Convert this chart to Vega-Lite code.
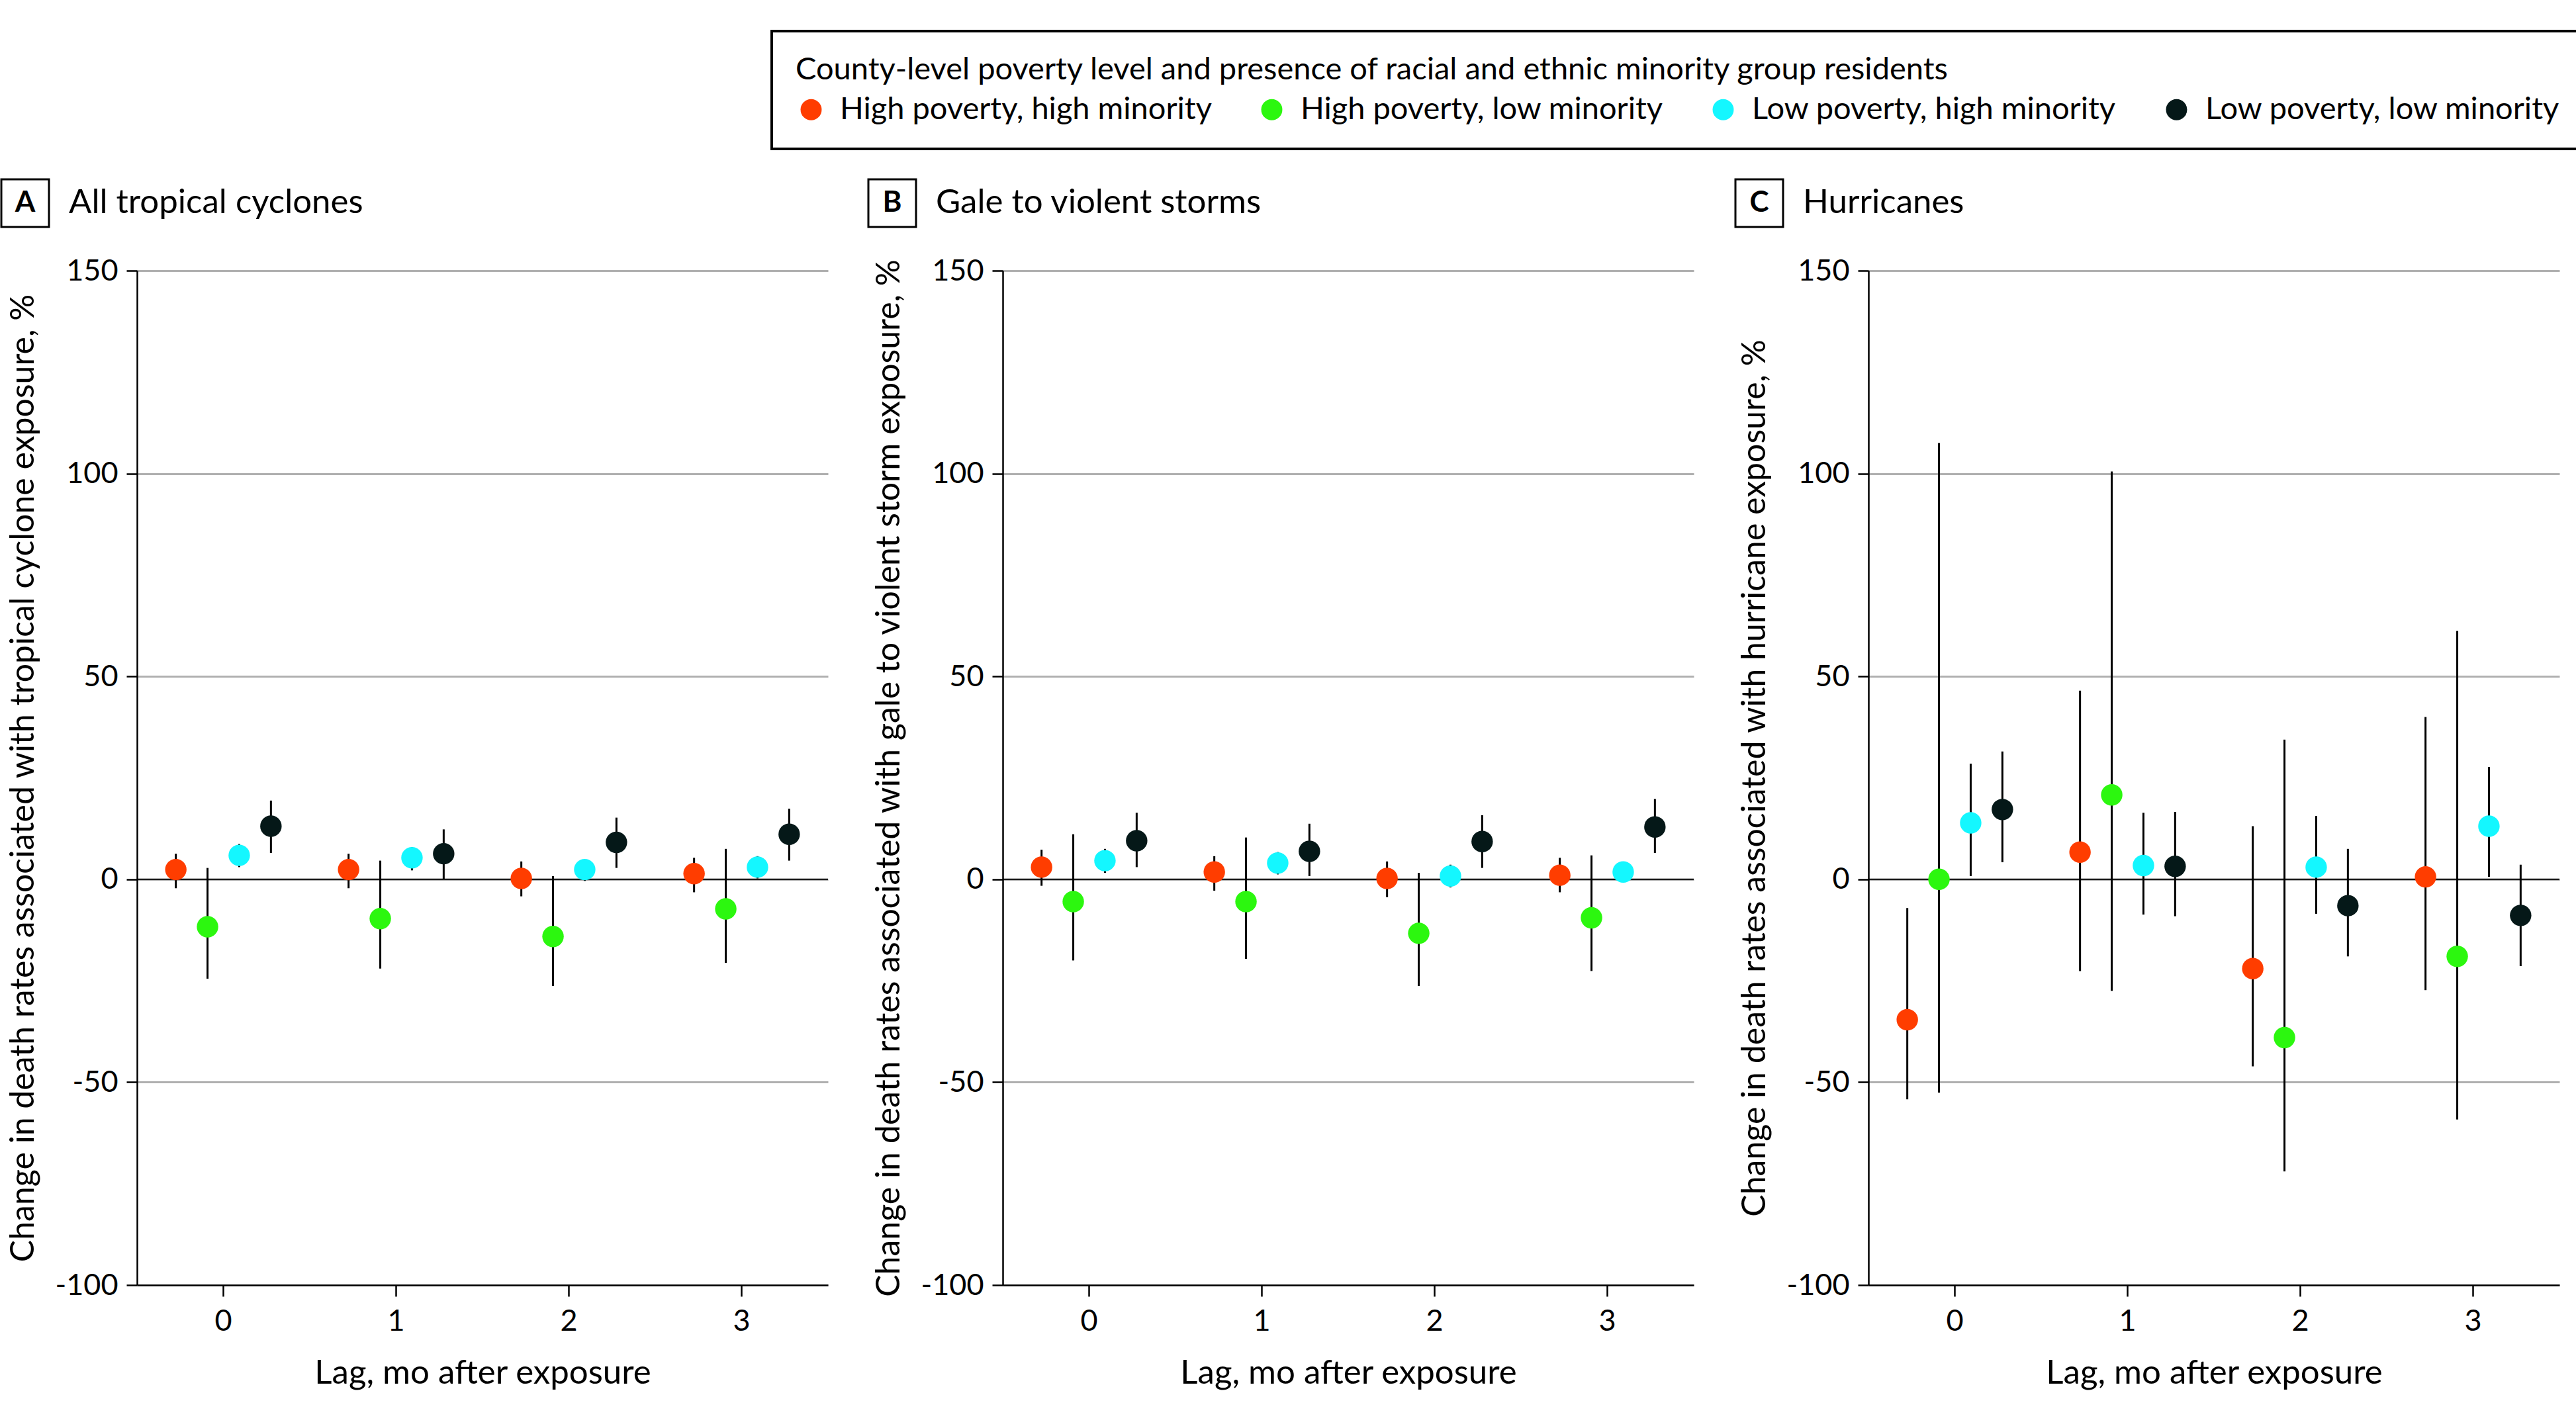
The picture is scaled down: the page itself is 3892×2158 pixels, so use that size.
{
  "$schema": "https://vega.github.io/schema/vega-lite/v6.json",
  "background": "white",
  "padding": {"left": 0, "top": 45, "right": 20, "bottom": 20},
  "config": {
    "font": "Lato",
    "view": {"stroke": null},
    "axis": {
      "labelFont": "Lato",
      "titleFont": "Lato",
      "labelFontSize": 45,
      "titleFontSize": 51,
      "titleFontWeight": "normal",
      "labelColor": "black",
      "titleColor": "black",
      "domainColor": "black",
      "domainWidth": 2.5,
      "tickColor": "black",
      "tickWidth": 2.5,
      "gridColor": "#b0b0b0",
      "gridWidth": 3
    },
    "legend": {
      "strokeColor": "black",
      "strokeWidth": 4
    }
  },
  "datasets": {
    "panels": [
      {"panel": "A", "name": "All tropical cyclones"},
      {"panel": "B", "name": "Gale to violent storms"},
      {"panel": "C", "name": "Hurricanes"}
    ],
    "estimates": [
      {"panel": "A", "lag": 0, "group": "High poverty, high minority", "est": 2.4, "lo": -2.2, "hi": 6.3},
      {"panel": "A", "lag": 0, "group": "High poverty, low minority", "est": -11.7, "lo": -24.5, "hi": 2.8},
      {"panel": "A", "lag": 0, "group": "Low poverty, high minority", "est": 5.9, "lo": 3.0, "hi": 8.7},
      {"panel": "A", "lag": 0, "group": "Low poverty, low minority", "est": 13.1, "lo": 6.5, "hi": 19.4},
      {"panel": "A", "lag": 1, "group": "High poverty, high minority", "est": 2.4, "lo": -2.2, "hi": 6.3},
      {"panel": "A", "lag": 1, "group": "High poverty, low minority", "est": -9.7, "lo": -22.0, "hi": 4.6},
      {"panel": "A", "lag": 1, "group": "Low poverty, high minority", "est": 5.3, "lo": 2.2, "hi": 7.9},
      {"panel": "A", "lag": 1, "group": "Low poverty, low minority", "est": 6.3, "lo": 0.0, "hi": 12.3},
      {"panel": "A", "lag": 2, "group": "High poverty, high minority", "est": 0.2, "lo": -4.2, "hi": 4.4},
      {"panel": "A", "lag": 2, "group": "High poverty, low minority", "est": -14.1, "lo": -26.3, "hi": 0.8},
      {"panel": "A", "lag": 2, "group": "Low poverty, high minority", "est": 2.4, "lo": -0.4, "hi": 4.7},
      {"panel": "A", "lag": 2, "group": "Low poverty, low minority", "est": 9.1, "lo": 2.8, "hi": 15.2},
      {"panel": "A", "lag": 3, "group": "High poverty, high minority", "est": 1.4, "lo": -3.2, "hi": 5.3},
      {"panel": "A", "lag": 3, "group": "High poverty, low minority", "est": -7.3, "lo": -20.6, "hi": 7.5},
      {"panel": "A", "lag": 3, "group": "Low poverty, high minority", "est": 3.0, "lo": 0.2, "hi": 5.7},
      {"panel": "A", "lag": 3, "group": "Low poverty, low minority", "est": 11.1, "lo": 4.6, "hi": 17.4},
      {"panel": "B", "lag": 0, "group": "High poverty, high minority", "est": 3.0, "lo": -1.6, "hi": 7.3},
      {"panel": "B", "lag": 0, "group": "High poverty, low minority", "est": -5.5, "lo": -20.0, "hi": 11.1},
      {"panel": "B", "lag": 0, "group": "Low poverty, high minority", "est": 4.6, "lo": 1.6, "hi": 7.5},
      {"panel": "B", "lag": 0, "group": "Low poverty, low minority", "est": 9.5, "lo": 3.0, "hi": 16.4},
      {"panel": "B", "lag": 1, "group": "High poverty, high minority", "est": 1.8, "lo": -2.8, "hi": 5.7},
      {"panel": "B", "lag": 1, "group": "High poverty, low minority", "est": -5.5, "lo": -19.6, "hi": 10.3},
      {"panel": "B", "lag": 1, "group": "Low poverty, high minority", "est": 4.0, "lo": 1.2, "hi": 6.7},
      {"panel": "B", "lag": 1, "group": "Low poverty, low minority", "est": 6.9, "lo": 0.8, "hi": 13.7},
      {"panel": "B", "lag": 2, "group": "High poverty, high minority", "est": 0.2, "lo": -4.4, "hi": 4.4},
      {"panel": "B", "lag": 2, "group": "High poverty, low minority", "est": -13.3, "lo": -26.3, "hi": 1.6},
      {"panel": "B", "lag": 2, "group": "Low poverty, high minority", "est": 0.8, "lo": -2.0, "hi": 3.6},
      {"panel": "B", "lag": 2, "group": "Low poverty, low minority", "est": 9.3, "lo": 2.8, "hi": 15.8},
      {"panel": "B", "lag": 3, "group": "High poverty, high minority", "est": 1.0, "lo": -3.2, "hi": 5.3},
      {"panel": "B", "lag": 3, "group": "High poverty, low minority", "est": -9.5, "lo": -22.6, "hi": 5.9},
      {"panel": "B", "lag": 3, "group": "Low poverty, high minority", "est": 1.8, "lo": 0.8, "hi": 2.6},
      {"panel": "B", "lag": 3, "group": "Low poverty, low minority", "est": 12.9, "lo": 6.5, "hi": 19.8},
      {"panel": "C", "lag": 0, "group": "High poverty, high minority", "est": -34.6, "lo": -54.2, "hi": -7.1},
      {"panel": "C", "lag": 0, "group": "High poverty, low minority", "est": 0.0, "lo": -52.6, "hi": 107.5},
      {"panel": "C", "lag": 0, "group": "Low poverty, high minority", "est": 13.9, "lo": 0.8, "hi": 28.5},
      {"panel": "C", "lag": 0, "group": "Low poverty, low minority", "est": 17.2, "lo": 4.2, "hi": 31.5},
      {"panel": "C", "lag": 1, "group": "High poverty, high minority", "est": 6.7, "lo": -22.6, "hi": 46.5},
      {"panel": "C", "lag": 1, "group": "High poverty, low minority", "est": 20.8, "lo": -27.5, "hi": 100.5},
      {"panel": "C", "lag": 1, "group": "Low poverty, high minority", "est": 3.4, "lo": -8.7, "hi": 16.4},
      {"panel": "C", "lag": 1, "group": "Low poverty, low minority", "est": 3.2, "lo": -9.1, "hi": 16.6},
      {"panel": "C", "lag": 2, "group": "High poverty, high minority", "est": -22.0, "lo": -46.1, "hi": 13.1},
      {"panel": "C", "lag": 2, "group": "High poverty, low minority", "est": -39.0, "lo": -72.0, "hi": 34.4},
      {"panel": "C", "lag": 2, "group": "Low poverty, high minority", "est": 3.0, "lo": -8.5, "hi": 15.6},
      {"panel": "C", "lag": 2, "group": "Low poverty, low minority", "est": -6.5, "lo": -19.0, "hi": 7.5},
      {"panel": "C", "lag": 3, "group": "High poverty, high minority", "est": 0.6, "lo": -27.3, "hi": 40.0},
      {"panel": "C", "lag": 3, "group": "High poverty, low minority", "est": -19.0, "lo": -59.2, "hi": 61.2},
      {"panel": "C", "lag": 3, "group": "Low poverty, high minority", "est": 13.1, "lo": 0.6, "hi": 27.7},
      {"panel": "C", "lag": 3, "group": "Low poverty, low minority", "est": -8.9, "lo": -21.4, "hi": 3.6}
    ]
  },
  "resolve": {"scale": {"color": "shared"}, "legend": {"color": "shared"}},
  "spacing": 42,
  "vconcat": [
    {
      "bounds": "flush",
      "spacing": 30,
      "hconcat": [
        {
          "width": 72, "height": 72,
          "view": {"stroke": "black", "strokeWidth": 3, "fill": "white"},
          "data": {"name": "panels"},
          "transform": [{"filter": {"field": "panel", "equal": "A"}}],
          "mark": {"type": "text", "fontSize": 44, "fontWeight": "bold", "color": "black", "align": "center", "baseline": "middle"},
          "encoding": {"text": {"field": "panel"}}
        },
        {
          "width": 1178, "height": 72,
          "data": {"name": "panels"},
          "transform": [{"filter": {"field": "panel", "equal": "A"}}],
          "mark": {"type": "text", "fontSize": 51, "color": "black", "align": "left", "baseline": "middle"},
          "encoding": {
            "x": {"field": "name", "type": "nominal", "scale": {"type": "point", "padding": 0, "align": 0}, "axis": null},
            "text": {"field": "name"}
          }
        },
        {
          "width": 72, "height": 72,
          "view": {"stroke": "black", "strokeWidth": 3, "fill": "white"},
          "data": {"name": "panels"},
          "transform": [{"filter": {"field": "panel", "equal": "B"}}],
          "mark": {"type": "text", "fontSize": 44, "fontWeight": "bold", "color": "black", "align": "center", "baseline": "middle"},
          "encoding": {"text": {"field": "panel"}}
        },
        {
          "width": 1178, "height": 72,
          "data": {"name": "panels"},
          "transform": [{"filter": {"field": "panel", "equal": "B"}}],
          "mark": {"type": "text", "fontSize": 51, "color": "black", "align": "left", "baseline": "middle"},
          "encoding": {
            "x": {"field": "name", "type": "nominal", "scale": {"type": "point", "padding": 0, "align": 0}, "axis": null},
            "text": {"field": "name"}
          }
        },
        {
          "width": 72, "height": 72,
          "view": {"stroke": "black", "strokeWidth": 3, "fill": "white"},
          "data": {"name": "panels"},
          "transform": [{"filter": {"field": "panel", "equal": "C"}}],
          "mark": {"type": "text", "fontSize": 44, "fontWeight": "bold", "color": "black", "align": "center", "baseline": "middle"},
          "encoding": {"text": {"field": "panel"}}
        },
        {
          "width": 1000, "height": 72,
          "data": {"name": "panels"},
          "transform": [{"filter": {"field": "panel", "equal": "C"}}],
          "mark": {"type": "text", "fontSize": 51, "color": "black", "align": "left", "baseline": "middle"},
          "encoding": {
            "x": {"field": "name", "type": "nominal", "scale": {"type": "point", "padding": 0, "align": 0}, "axis": null},
            "text": {"field": "name"}
          }
        }
      ]
    },
    {
      "spacing": 0,
      "resolve": {"scale": {"color": "shared"}, "legend": {"color": "shared"}},
      "hconcat": [
        {
          "width": 8, "height": 1,
          "data": {"values": []},
          "mark": "point"
        },
        {
          "spacing": 66,
          "resolve": {"scale": {"color": "shared"}, "legend": {"color": "shared"}},
          "hconcat": [
            {
              "width": 1044, "height": 1533,
              "data": {"name": "estimates"},
              "transform": [{"filter": {"field": "panel", "equal": "A"}}],
              "layer": [
                {
                  "data": {"values": [{}]},
                  "mark": {"type": "rule", "color": "black", "strokeWidth": 2},
                  "encoding": {"y": {"datum": 0, "type": "quantitative"}}
                },
                {
                  "mark": {"type": "rule", "color": "black", "strokeWidth": 3},
                  "encoding": {
                    "x": {"field": "lag", "type": "ordinal", "scale": {"type": "band", "paddingInner": 0, "paddingOuter": 0}, "axis": {"title": "Lag, mo after exposure", "labelAngle": 0, "grid": false, "tickSize": 17, "labelPadding": 15, "titlePadding": 31}},
                    "xOffset": {"field": "group", "type": "nominal", "sort": ["High poverty, high minority", "High poverty, low minority", "Low poverty, high minority", "Low poverty, low minority"], "scale": {"type": "band", "paddingInner": 0, "paddingOuter": 0.7245}},
                    "y": {"field": "lo", "type": "quantitative", "scale": {"domain": [-100, 150], "nice": false, "zero": false}, "axis": {"title": "Change in death rates associated with tropical cyclone exposure, %", "values": [-100, -50, 0, 50, 100, 150], "labelExpr": "replace(datum.label, '\u2212', '-')", "tickSize": 16, "labelPadding": 13, "titlePadding": 22, "grid": true, "titleFontSize": 50}},
                    "y2": {"field": "hi"}
                  }
                },
                {
                  "mark": {"type": "point", "filled": true, "size": 1050, "opacity": 1},
                  "encoding": {
                    "x": {"field": "lag", "type": "ordinal"},
                    "xOffset": {"field": "group", "type": "nominal", "sort": ["High poverty, high minority", "High poverty, low minority", "Low poverty, high minority", "Low poverty, low minority"]},
                    "y": {"field": "est", "type": "quantitative"},
                    "color": {
                      "field": "group", "type": "nominal",
                      "scale": {"domain": ["High poverty, high minority", "High poverty, low minority", "Low poverty, high minority", "Low poverty, low minority"], "range": ["#ff3d00", "#2cf70f", "#14f7ff", "#051818"]},
                      "legend": {"title": "County-level poverty level and presence of racial and ethnic minority group residents", "orient": "none", "legendX": 1164, "legendY": -224, "direction": "horizontal", "titleOrient": "top", "strokeColor": "black", "padding": 36, "columnPadding": 67, "labelOffset": 20, "symbolType": "circle", "symbolSize": 1018, "symbolStrokeWidth": 0, "titleFontSize": 47, "labelFontSize": 47, "titleFontWeight": "normal", "titlePadding": 12, "titleLimit": 4000, "labelLimit": 2000, "titleColor": "black", "labelColor": "black", "titleFont": "Lato", "labelFont": "Lato"}
                    }
                  }
                }
              ]
            },
            {
              "width": 1044, "height": 1533,
              "data": {"name": "estimates"},
              "transform": [{"filter": {"field": "panel", "equal": "B"}}],
              "layer": [
                {
                  "data": {"values": [{}]},
                  "mark": {"type": "rule", "color": "black", "strokeWidth": 2},
                  "encoding": {"y": {"datum": 0, "type": "quantitative"}}
                },
                {
                  "mark": {"type": "rule", "color": "black", "strokeWidth": 3},
                  "encoding": {
                    "x": {"field": "lag", "type": "ordinal", "scale": {"type": "band", "paddingInner": 0, "paddingOuter": 0}, "axis": {"title": "Lag, mo after exposure", "labelAngle": 0, "grid": false, "tickSize": 17, "labelPadding": 15, "titlePadding": 31}},
                    "xOffset": {"field": "group", "type": "nominal", "sort": ["High poverty, high minority", "High poverty, low minority", "Low poverty, high minority", "Low poverty, low minority"], "scale": {"type": "band", "paddingInner": 0, "paddingOuter": 0.7245}},
                    "y": {"field": "lo", "type": "quantitative", "scale": {"domain": [-100, 150], "nice": false, "zero": false}, "axis": {"title": "Change in death rates associated with gale to violent storm exposure, %", "values": [-100, -50, 0, 50, 100, 150], "labelExpr": "replace(datum.label, '\u2212', '-')", "tickSize": 16, "labelPadding": 13, "titlePadding": 22, "grid": true, "titleFontSize": 50}},
                    "y2": {"field": "hi"}
                  }
                },
                {
                  "mark": {"type": "point", "filled": true, "size": 1050, "opacity": 1},
                  "encoding": {
                    "x": {"field": "lag", "type": "ordinal"},
                    "xOffset": {"field": "group", "type": "nominal", "sort": ["High poverty, high minority", "High poverty, low minority", "Low poverty, high minority", "Low poverty, low minority"]},
                    "y": {"field": "est", "type": "quantitative"},
                    "color": {
                      "field": "group", "type": "nominal",
                      "scale": {"domain": ["High poverty, high minority", "High poverty, low minority", "Low poverty, high minority", "Low poverty, low minority"], "range": ["#ff3d00", "#2cf70f", "#14f7ff", "#051818"]},
                      "legend": {"title": "County-level poverty level and presence of racial and ethnic minority group residents", "orient": "none", "legendX": 1164, "legendY": -224, "direction": "horizontal", "titleOrient": "top", "strokeColor": "black", "padding": 36, "columnPadding": 67, "labelOffset": 20, "symbolType": "circle", "symbolSize": 1018, "symbolStrokeWidth": 0, "titleFontSize": 47, "labelFontSize": 47, "titleFontWeight": "normal", "titlePadding": 12, "titleLimit": 4000, "labelLimit": 2000, "titleColor": "black", "labelColor": "black", "titleFont": "Lato", "labelFont": "Lato"}
                    }
                  }
                }
              ]
            },
            {
              "width": 1044, "height": 1533,
              "data": {"name": "estimates"},
              "transform": [{"filter": {"field": "panel", "equal": "C"}}],
              "layer": [
                {
                  "data": {"values": [{}]},
                  "mark": {"type": "rule", "color": "black", "strokeWidth": 2},
                  "encoding": {"y": {"datum": 0, "type": "quantitative"}}
                },
                {
                  "mark": {"type": "rule", "color": "black", "strokeWidth": 3},
                  "encoding": {
                    "x": {"field": "lag", "type": "ordinal", "scale": {"type": "band", "paddingInner": 0, "paddingOuter": 0}, "axis": {"title": "Lag, mo after exposure", "labelAngle": 0, "grid": false, "tickSize": 17, "labelPadding": 15, "titlePadding": 31}},
                    "xOffset": {"field": "group", "type": "nominal", "sort": ["High poverty, high minority", "High poverty, low minority", "Low poverty, high minority", "Low poverty, low minority"], "scale": {"type": "band", "paddingInner": 0, "paddingOuter": 0.7245}},
                    "y": {"field": "lo", "type": "quantitative", "scale": {"domain": [-100, 150], "nice": false, "zero": false}, "axis": {"title": "Change in death rates associated with hurricane exposure, %", "values": [-100, -50, 0, 50, 100, 150], "labelExpr": "replace(datum.label, '\u2212', '-')", "tickSize": 16, "labelPadding": 13, "titlePadding": 22, "grid": true, "titleFontSize": 50}},
                    "y2": {"field": "hi"}
                  }
                },
                {
                  "mark": {"type": "point", "filled": true, "size": 1050, "opacity": 1},
                  "encoding": {
                    "x": {"field": "lag", "type": "ordinal"},
                    "xOffset": {"field": "group", "type": "nominal", "sort": ["High poverty, high minority", "High poverty, low minority", "Low poverty, high minority", "Low poverty, low minority"]},
                    "y": {"field": "est", "type": "quantitative"},
                    "color": {
                      "field": "group", "type": "nominal",
                      "scale": {"domain": ["High poverty, high minority", "High poverty, low minority", "Low poverty, high minority", "Low poverty, low minority"], "range": ["#ff3d00", "#2cf70f", "#14f7ff", "#051818"]},
                      "legend": {"title": "County-level poverty level and presence of racial and ethnic minority group residents", "orient": "none", "legendX": 1164, "legendY": -224, "direction": "horizontal", "titleOrient": "top", "strokeColor": "black", "padding": 36, "columnPadding": 67, "labelOffset": 20, "symbolType": "circle", "symbolSize": 1018, "symbolStrokeWidth": 0, "titleFontSize": 47, "labelFontSize": 47, "titleFontWeight": "normal", "titlePadding": 12, "titleLimit": 4000, "labelLimit": 2000, "titleColor": "black", "labelColor": "black", "titleFont": "Lato", "labelFont": "Lato"}
                    }
                  }
                }
              ]
            }
          ]
        }
      ]
    }
  ]
}
